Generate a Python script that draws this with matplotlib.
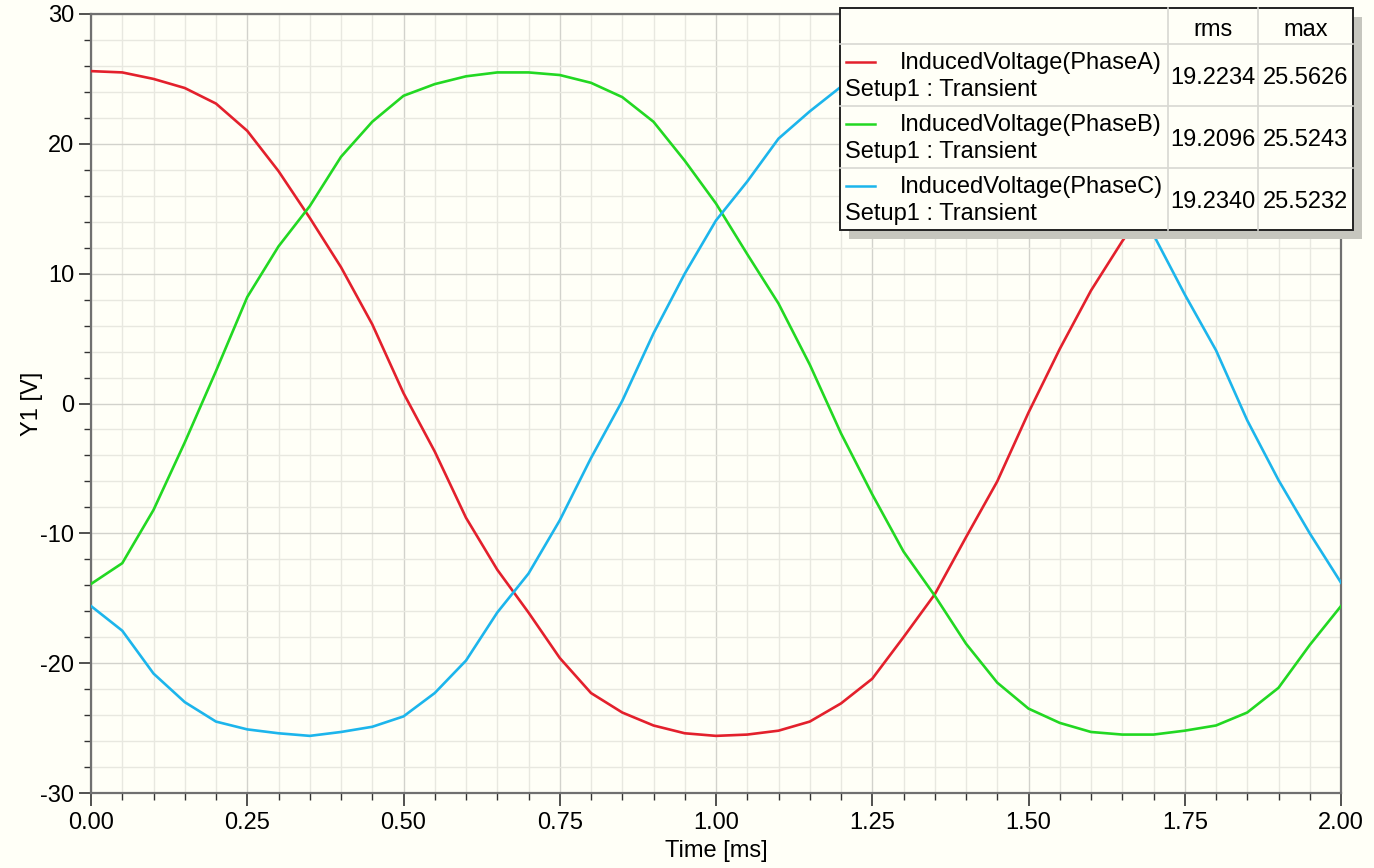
import matplotlib.pyplot as plt
from matplotlib.patches import Rectangle
from matplotlib.ticker import MultipleLocator

plt.rcParams['font.family'] = ['Liberation Sans', 'DejaVu Sans']

# time [ms]
t = [0.00, 0.05, 0.10, 0.15, 0.20, 0.25, 0.30, 0.35, 0.40, 0.45,
     0.50, 0.55, 0.60, 0.65, 0.70, 0.75, 0.80, 0.85, 0.90, 0.95,
     1.00, 1.05, 1.10, 1.15, 1.20, 1.25, 1.30, 1.35, 1.40, 1.45,
     1.50, 1.55, 1.60, 1.65, 1.70, 1.75, 1.80, 1.85, 1.90, 1.95, 2.00]

phase_a = [25.6, 25.5, 25.0, 24.3, 23.1, 21.0, 17.9, 14.3, 10.5, 6.1,
           0.8, -3.7, -8.8, -12.8, -16.1, -19.6, -22.3, -23.8, -24.8, -25.4,
           -25.6, -25.5, -25.2, -24.5, -23.1, -21.2, -18.0, -14.7, -10.3, -6.0,
           -0.7, 4.2, 8.7, 12.5, 15.9, 19.8, 22.3, 23.8, 24.8, 25.3, 25.5]

phase_b = [-13.9, -12.3, -8.2, -3.0, 2.5, 8.2, 12.1, 15.2, 19.0, 21.7,
           23.7, 24.6, 25.2, 25.5, 25.5, 25.3, 24.7, 23.6, 21.7, 18.7,
           15.4, 11.5, 7.7, 3.0, -2.3, -7.0, -11.4, -14.8, -18.5, -21.5,
           -23.5, -24.6, -25.3, -25.5, -25.5, -25.2, -24.8, -23.8, -21.9, -18.6, -15.6]

phase_c = [-15.6, -17.5, -20.8, -23.0, -24.5, -25.1, -25.4, -25.6, -25.3, -24.9,
           -24.1, -22.3, -19.8, -16.1, -13.1, -9.0, -4.2, 0.2, 5.4, 10.0,
           14.1, 17.1, 20.4, 22.5, 24.4, 25.1, 25.4, 25.6, 25.4, 25.0,
           24.2, 22.4, 19.9, 16.2, 13.0, 8.4, 4.1, -1.3, -5.9, -10.0, -13.8]

names = ["InducedVoltage(PhaseA)", "InducedVoltage(PhaseB)", "InducedVoltage(PhaseC)"]
rms = ["19.2234", "19.2096", "19.2340"]
vmax = ["25.5626", "25.5243", "25.5232"]
colors = ['#E3202C', '#22D822', '#1CB5EC']

fs = 17
bg = '#FFFFF7'
fig = plt.figure(figsize=(13.74, 8.68), dpi=100, facecolor=bg)
ax = fig.add_axes([91/1374, 75/868, 1250/1374, 779/868], facecolor=bg)

for y, c in zip([phase_a, phase_b, phase_c], colors):
    ax.plot(t, y, color=c, lw=1.9, zorder=3)

ax.set_xlim(0, 2)
ax.set_ylim(-30, 30)
ax.xaxis.set_major_locator(MultipleLocator(0.25))
ax.xaxis.set_minor_locator(MultipleLocator(0.05))
ax.yaxis.set_major_locator(MultipleLocator(10))
ax.yaxis.set_minor_locator(MultipleLocator(2))
ax.xaxis.set_major_formatter(lambda v, p: f"{v:.2f}")
ax.yaxis.set_major_formatter(lambda v, p: f"{v:.0f}")
ax.grid(which='major', color='#D2D2CC', lw=1.0)
ax.grid(which='minor', color='#E8E8E0', lw=1.0)
ax.tick_params(which='major', direction='out', length=9, width=1.2,
               color='#333333', labelsize=fs, pad=3)
ax.tick_params(axis='x', which='major', pad=5)
ax.tick_params(which='minor', direction='out', length=5, width=1.0, color='#333333')
for s in ax.spines.values():
    s.set_color('#707070')
    s.set_linewidth(1.6)

ax.set_xlabel("Time [ms]", fontsize=fs, labelpad=4)
ax.set_ylabel("Y1 [V]", fontsize=fs, labelpad=-2)

# legend table (pixel coordinates)
lx0, ly0 = 838, 6
lw_, lh_ = 530, 236
lg = fig.add_axes([lx0/1374, (868 - ly0 - lh_)/868, lw_/1374, lh_/868])
lg.set_xlim(lx0, lx0 + lw_)
lg.set_ylim(ly0 + lh_, ly0)
lg.axis('off')
lg.patch.set_alpha(0)

lg.add_patch(Rectangle((849, 17), 513, 222, color='#C6C6BE', lw=0))
lg.add_patch(Rectangle((840, 8), 513, 222, facecolor=bg, edgecolor='#222222', lw=1.2))
for xc in [1168, 1258]:
    lg.plot([xc, xc], [8, 230], color='#D8D8D2', lw=1.2)
for yr in [44, 106, 168]:
    lg.plot([840, 1353], [yr, yr], color='#D8D8D2', lw=1.2)
lg.add_patch(Rectangle((840, 8), 513, 222, facecolor='none', edgecolor='#222222', lw=1.2))

lg.text(1213, 30, "rms", ha='center', va='center', fontsize=fs)
lg.text(1305.5, 30, "max", ha='center', va='center', fontsize=fs)
for i in range(3):
    top = 44 + 62 * i
    lg.plot([846, 875], [top + 18, top + 18], color=colors[i], lw=1.8)
    lg.text(900, top + 19, names[i], ha='left', va='center', fontsize=fs)
    lg.text(845, top + 46, "Setup1 : Transient", ha='left', va='center', fontsize=fs)
    lg.text(1213, top + 34, rms[i], ha='center', va='center', fontsize=fs)
    lg.text(1305.5, top + 34, vmax[i], ha='center', va='center', fontsize=fs)

fig.savefig("out.png", dpi=100, facecolor=bg)
